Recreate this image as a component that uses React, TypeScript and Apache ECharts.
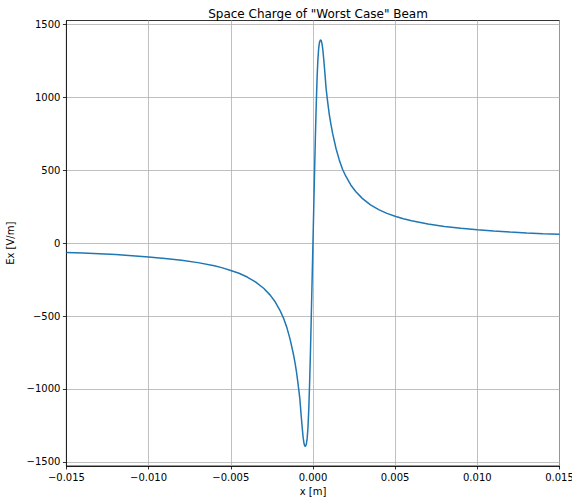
import React, { useEffect, useRef } from "react";
import * as echarts from "echarts";

const chartTitle = 'Space Charge of "Worst Case" Beam';
const xAxisName = "x [m]";
const yAxisName = "Ex [V/m]";

const xTicks = [-0.015, -0.01, -0.005, 0, 0.005, 0.01, 0.015];
const yTicks = [-1500, -1000, -500, 0, 500, 1000, 1500];

const xValues = [
  -0.015, -0.014, -0.013, -0.012, -0.011, -0.01, -0.009, -0.008, -0.007, -0.006,
  -0.0055, -0.005, -0.0045, -0.004, -0.0035, -0.003, -0.0026, -0.0023, -0.002, -0.0018,
  -0.0016, -0.0014, -0.0012, -0.0011, -0.001, -0.0009, -0.0008, -0.00075, -0.0007, -0.00065,
  -0.0006, -0.00055, -0.0005, -0.00045, -0.0004, -0.00035, -0.0003, -0.00025, -0.0002, -0.00015,
  -0.0001, -0.00005, 0,
  0.00005, 0.0001, 0.00015, 0.0002, 0.00025, 0.0003, 0.00035, 0.0004, 0.00045, 0.0005,
  0.00055, 0.0006, 0.00065, 0.0007, 0.00075, 0.0008, 0.0009, 0.001, 0.0011, 0.0012,
  0.0014, 0.0016, 0.0018, 0.002, 0.0023, 0.0026, 0.003, 0.0035, 0.004, 0.0045,
  0.005, 0.0055, 0.006, 0.007, 0.008, 0.009, 0.01, 0.011, 0.012, 0.013, 0.014, 0.015,
];

const exValues = [
  -63, -67, -72, -78, -85, -94, -104, -116, -133, -155,
  -169, -187, -206, -232, -265, -309, -356, -402, -462, -512,
  -574, -655, -755, -815, -885, -970, -1065, -1135, -1205, -1270,
  -1330, -1370, -1392, -1393, -1378, -1338, -1258, -1128, -948, -738,
  -498, -250, 0,
  250, 500, 740, 950, 1130, 1260, 1340, 1380, 1395, 1392,
  1370, 1330, 1270, 1205, 1135, 1062, 965, 880, 812, 752,
  652, 572, 508, 460, 400, 355, 308, 264, 231, 205,
  185, 168, 154, 132, 115, 103, 93, 84, 77, 71, 66, 62,
];

const FONT = "DejaVu Sans";
const minus = (s: string) => s.replace("-", "\u2212");

export default function App() {
  const ref = useRef<HTMLDivElement>(null);
  useEffect(() => {
    if (!ref.current) return;
    const chart = echarts.init(ref.current, null, { renderer: "svg" });
    const data = xValues.map((x, i) => [x, exValues[i]]);
    chart.setOption({
      animation: false,
      backgroundColor: "#ffffff",
      title: {
        text: chartTitle,
        left: 313,
        top: 3,
        textAlign: "center",
        textStyle: { fontFamily: FONT, fontSize: 12, fontWeight: "normal", color: "#000" },
      },
      grid: {
        left: 66.4,
        right: 12.5,
        top: 20.5,
        bottom: 32,
        outerBoundsMode: "none",
        containLabel: false,
        show: true,
        borderColor: "#000",
        borderWidth: 0.8,
        backgroundColor: "transparent",
      },
      xAxis: {
        type: "value",
        min: -0.015,
        max: 0.015,
        interval: 0.005,
        name: xAxisName,
        nameLocation: "middle",
        nameGap: 20,
        nameTextStyle: { fontFamily: FONT, fontSize: 10, color: "#000" },
        axisLine: { show: true, onZero: false, lineStyle: { color: "#000", width: 0.8 } },
        axisTick: { show: true, length: 3.5, lineStyle: { color: "#000", width: 0.8 } },
        axisLabel: {
          margin: 6,
          fontFamily: FONT,
          fontSize: 10,
          color: "#000",
          showMinLabel: true,
          showMaxLabel: true,
          hideOverlap: false,
          formatter: (v: number) => minus(v.toFixed(3)),
        },
        splitLine: { show: true, lineStyle: { color: "#b0b0b0", width: 0.8 } },
      },
      yAxis: {
        type: "value",
        min: -1529,
        max: 1529,
        name: yAxisName,
        nameLocation: "middle",
        nameGap: 42,
        nameTextStyle: { fontFamily: FONT, fontSize: 10, color: "#000" },
        axisLine: { show: true, onZero: false, lineStyle: { color: "#000", width: 0.8 } },
        axisTick: {
          show: true,
          length: 3.5,
          customValues: yTicks,
          lineStyle: { color: "#000", width: 0.8 },
        },
        axisLabel: {
          margin: 6,
          fontFamily: FONT,
          fontSize: 10,
          color: "#000",
          customValues: yTicks,
          formatter: (v: number) => minus(String(v)),
        },
        splitLine: { show: true, lineStyle: { color: "#b0b0b0", width: 0.8 } },
      },
      series: [
        {
          type: "line",
          data,
          showSymbol: false,
          symbol: "none",
          lineStyle: { color: "#1f77b4", width: 1.5 },
          clip: true,
        },
      ],
    });
    return () => chart.dispose();
  }, []);
  return (
    <div
      ref={ref}
      style={{ position: "fixed", left: 0, top: 0, width: 572, height: 498 }}
    />
  );
}
